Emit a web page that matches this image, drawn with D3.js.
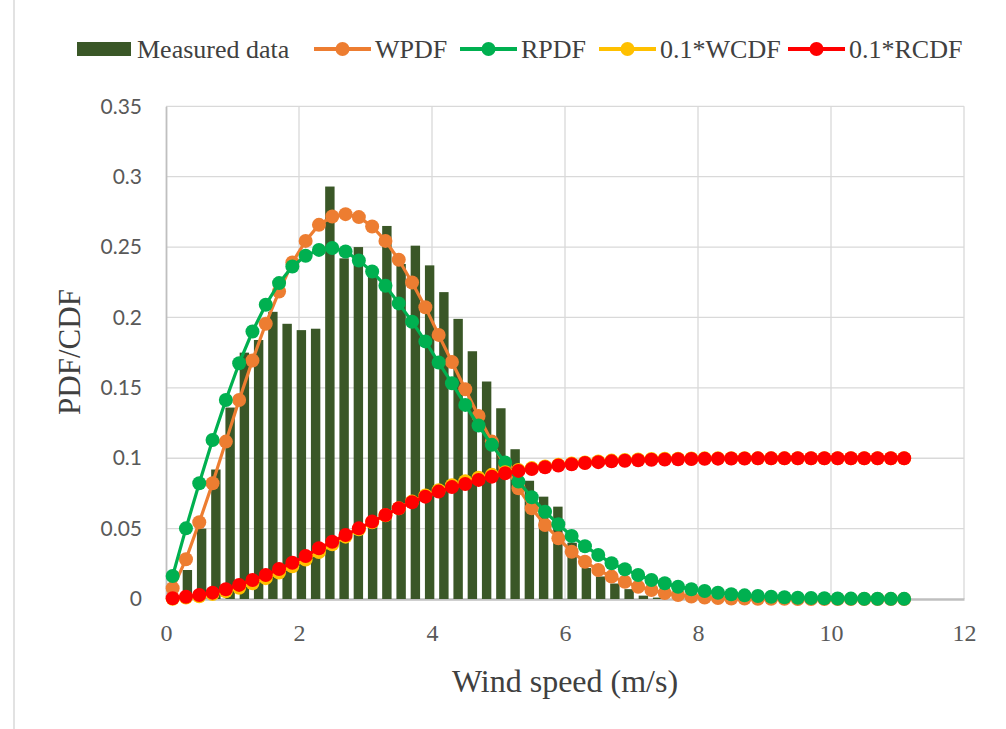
<!DOCTYPE html>
<html>
<head>
<meta charset="utf-8">
<script src="https://cdn.jsdelivr.net/npm/d3@7/dist/d3.min.js"></script>
<style>
  body { margin: 0; background: #ffffff; }
</style>
</head>
<body>
<div id="chart"></div>
<script>
// wind speed bins (m/s), also used as the categories of the measured bars
const windSpeed = [0.1,0.3,0.5,0.7,0.9,1.1,1.3,1.5,1.7,1.9,
  2.1,2.3,2.5,2.7,2.9,3.1,3.3,3.5,3.7,3.9,
  4.1,4.3,4.5,4.7,4.9,5.1,5.3,5.5,5.7,5.9,
  6.1,6.3,6.5,6.7,6.9,7.1,7.3,7.5,7.7,7.9,
  8.1,8.3,8.5,8.7,8.9,9.1,9.3,9.5,9.7,9.9,
  10.1,10.3,10.5,10.7,10.9,11.1];

const measured = [0.003,0.0206,0.050,0.092,0.136,0.175,0.184,0.204,0.1955,0.191,
  0.192,0.293,0.242,0.250,0.229,0.265,0.238,0.251,0.237,0.218,
  0.199,0.176,0.1545,0.1355,0.1064,0.084,0.0727,0.0656,0.040,0.022,
  0.016,0.011,0.007,0.0024,0.001,0,0,0,0,0,
  0,0,0,0,0,0,0,0,0,0,
  0,0,0,0,0,0];

const wpdf = [0.0076,0.0282,0.0545,0.0822,0.1118,0.1414,0.1694,0.1955,0.2184,0.239,
  0.2544,0.2658,0.2717,0.2734,0.2713,0.2646,0.2544,0.241,0.2248,0.2073,
  0.1876,0.1684,0.149,0.130,0.1118,0.094,0.0787,0.0645,0.0526,0.0431,
  0.0336,0.0265,0.0206,0.0159,0.0123,0.0087,0.0064,0.0042,0.0028,0.0017,
  0.0011,0.0007,0.0004,0.0003,0.0002,0.0001,0.0001,0,0,0,
  0,0,0,0,0,0];

const rpdf = [0.0163,0.0502,0.0822,0.113,0.1414,0.1675,0.190,0.209,0.2244,0.2362,
  0.2438,0.248,0.2493,0.2469,0.2405,0.2326,0.2225,0.210,0.197,0.183,
  0.168,0.1533,0.1379,0.1232,0.1095,0.0969,0.0834,0.0723,0.062,0.0531,
  0.0448,0.0375,0.0313,0.0254,0.0211,0.0171,0.0135,0.0112,0.0087,0.0069,
  0.0057,0.0044,0.0034,0.0026,0.0021,0.0016,0.0012,0.0009,0.0007,0.0005,
  0.0004,0.0003,0.0002,0.0002,0.0001,0.0001];

const wcdf = [0.0002,0.001,0.002,0.0035,0.0055,0.008,0.0112,0.0148,0.0188,0.0232,
  0.028,0.0333,0.0389,0.0443,0.0495,0.0545,0.0595,0.0645,0.0692,0.0735,
  0.0773,0.0808,0.0836,0.0861,0.0882,0.0901,0.0917,0.093,0.0942,0.0953,
  0.0962,0.097,0.0977,0.0983,0.0987,0.0991,0.0994,0.0996,0.0997,0.0998,
  0.0999,0.0999,0.1,0.1,0.1,0.1,0.1,0.1,0.1,0.1,
  0.1,0.1,0.1,0.1,0.1,0.1];

const rcdf = [0.0005,0.0016,0.0028,0.0045,0.0069,0.0100,0.0135,0.0171,0.0213,0.0258,
  0.0305,0.036,0.0407,0.0455,0.0502,0.055,0.0597,0.0645,0.0687,0.0727,
  0.0763,0.0795,0.0817,0.0846,0.0869,0.0893,0.091,0.0924,0.0936,0.0948,
  0.0957,0.0966,0.0972,0.0978,0.0982,0.0986,0.0989,0.0991,0.0993,0.0995,
  0.0996,0.0997,0.0998,0.0998,0.0999,0.0999,0.0999,0.1,0.1,0.1,
  0.1,0.1,0.1,0.1,0.1,0.1];

const xTicks = [0, 2, 4, 6, 8, 10, 12];
const yTicks = [0, 0.05, 0.1, 0.15, 0.2, 0.25, 0.3, 0.35];

const lineSeries = [
  { name: 'WPDF', values: wpdf, color: '#ED7D31' },
  { name: 'RPDF', values: rpdf, color: '#00B050' },
  { name: '0.1*WCDF', values: wcdf, color: '#FFC000' },
  { name: '0.1*RCDF', values: rcdf, color: '#FF0000' }
];

const W = 1006, H = 729;
const plot = { left: 166, right: 964, top: 106.3, bottom: 599 };
const barColor = '#3A5727';
const serif = '"Liberation Serif", "Times New Roman", serif';

const svg = d3.select('#chart')
  .append('svg')
  .attr('width', W)
  .attr('height', H);

svg.append('rect').attr('width', W).attr('height', H).attr('fill', '#ffffff');
// chart area border on the left
svg.append('line')
  .attr('x1', 14).attr('x2', 14).attr('y1', 0).attr('y2', H)
  .attr('stroke', '#d9d9d9').attr('stroke-width', 1.5);

const x = d3.scaleLinear().domain([0, 12]).range([plot.left, plot.right]);
const y = d3.scaleLinear().domain([0, 0.35]).range([plot.bottom, plot.top]);
// bars sit on their own category axis spanning the whole plot (like the excel combo)
const xBand = d3.scaleBand()
  .domain(windSpeed.map(String))
  .range([plot.left, plot.right])
  .paddingInner(0.34)
  .paddingOuter(0.17);

// gridlines
svg.append('g')
  .selectAll('line')
  .data(yTicks.filter(t => t > 0))
  .join('line')
  .attr('x1', plot.left).attr('x2', plot.right)
  .attr('y1', d => y(d)).attr('y2', d => y(d))
  .attr('stroke', '#d9d9d9').attr('stroke-width', 1.3);

svg.append('g')
  .selectAll('line')
  .data(xTicks.filter(t => t > 0))
  .join('line')
  .attr('x1', d => x(d)).attr('x2', d => x(d))
  .attr('y1', plot.top).attr('y2', plot.bottom)
  .attr('stroke', '#d9d9d9').attr('stroke-width', 1.3);

// axes
const yAxis = svg.append('g')
  .attr('transform', `translate(${plot.left},0)`)
  .call(d3.axisLeft(y).tickValues(yTicks).tickSize(0).tickPadding(24).tickFormat(d => d3.format('')(+d.toFixed(2))));
yAxis.select('.domain').attr('stroke', '#bfbfbf').attr('stroke-width', 1.8);
yAxis.selectAll('text')
  .style('font-family', 'Lato, "Open Sans", sans-serif')
  .style('font-size', '21px')
  .attr('fill', '#595959');

const xAxis = svg.append('g')
  .attr('transform', `translate(0,${plot.bottom})`)
  .call(d3.axisBottom(x).tickValues(xTicks).tickSize(0).tickPadding(25));
xAxis.select('.domain').attr('stroke', '#bfbfbf').attr('stroke-width', 2.4);
xAxis.selectAll('text')
  .style('font-family', serif)
  .style('font-size', '24px')
  .attr('fill', '#595959');

// measured data bars
svg.append('g')
  .selectAll('rect')
  .data(measured)
  .join('rect')
  .attr('x', (d, i) => xBand(String(windSpeed[i])))
  .attr('width', xBand.bandwidth())
  .attr('y', d => y(d))
  .attr('height', d => y(0) - y(d))
  .attr('fill', barColor);

// fitted curves: line then markers, one series after the other
const line = d3.line()
  .x((d, i) => x(windSpeed[i]))
  .y(d => y(d));

lineSeries.forEach(s => {
  const g = svg.append('g');
  g.append('path')
    .datum(s.values)
    .attr('d', line)
    .attr('fill', 'none')
    .attr('stroke', s.color)
    .attr('stroke-width', 3.2);
  g.selectAll('circle')
    .data(s.values)
    .join('circle')
    .attr('cx', (d, i) => x(windSpeed[i]))
    .attr('cy', d => y(d))
    .attr('r', 7)
    .attr('fill', s.color);
});

// legend
const legendY = 49;
const legend = svg.append('g').style('font-family', serif).style('font-size', '26px');
legend.append('rect')
  .attr('x', 77).attr('y', 42).attr('width', 54).attr('height', 14)
  .attr('fill', barColor);
legend.append('text')
  .attr('x', 137).attr('y', legendY + 9)
  .attr('fill', '#404040')
  .text('Measured data');

const legendPos = [314, 460, 599, 788];
lineSeries.forEach((s, i) => {
  const x0 = legendPos[i];
  legend.append('line')
    .attr('x1', x0).attr('x2', x0 + 57)
    .attr('y1', legendY).attr('y2', legendY)
    .attr('stroke', s.color).attr('stroke-width', 4);
  legend.append('circle')
    .attr('cx', x0 + 28.5).attr('cy', legendY).attr('r', 7)
    .attr('fill', s.color);
  legend.append('text')
    .attr('x', x0 + 61).attr('y', legendY + 9)
    .attr('fill', '#404040')
    .text(s.name);
});

// axis titles
svg.append('text')
  .attr('x', 565).attr('y', 692)
  .attr('text-anchor', 'middle')
  .style('font-family', serif).style('font-size', '32px')
  .attr('fill', '#404040')
  .text('Wind speed (m/s)');

svg.append('text')
  .attr('transform', 'translate(80,352) rotate(-90)')
  .attr('text-anchor', 'middle')
  .style('font-family', serif).style('font-size', '31px')
  .attr('fill', '#404040')
  .text('PDF/CDF');
</script>
</body>
</html>
